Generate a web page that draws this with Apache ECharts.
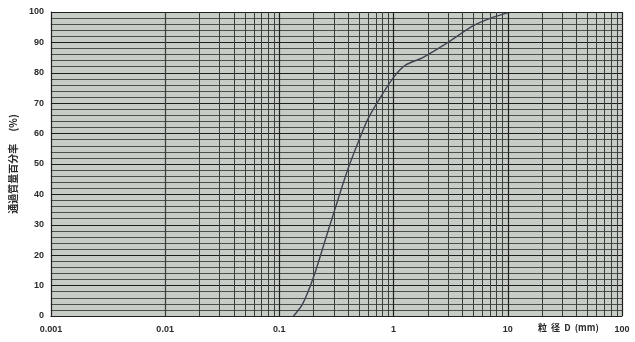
<!DOCTYPE html>
<html><head><meta charset="utf-8">
<script src="https://cdn.jsdelivr.net/npm/echarts@6/dist/echarts.min.js"></script>
<style>html,body{margin:0;padding:0;background:#fff}#c{width:635px;height:342px}</style>
</head><body><div id="c"></div>
<script>
// Particle size (mm) and percent passing
var grainSize = [0.133, 0.16, 0.2, 0.25, 0.3, 0.4, 0.5, 0.6, 0.77, 1.0, 1.27, 1.8, 3.0, 5.0, 7.5, 10];
var percentPassing = [0, 4, 13, 24.5, 34, 48.5, 58, 65, 72, 78.5, 82.5, 85, 90, 95.5, 98.3, 99.7];
var xTickLabels = ['0.001', '0.01', '0.1', '1', '10', '100'];
var yTickLabels = ['0','10','20','30','40','50','60','70','80','90','100'];
var decades = [0.001, 0.01, 0.1, 1, 10];
var subMultipliers = [2, 3, 4, 5, 6, 7, 8, 9];

var minorX = [];
decades.forEach(function (d) { subMultipliers.forEach(function (m) { minorX.push(+(d * m).toPrecision(3)); }); });

var lbl = {fontFamily: 'Liberation Sans', fontSize: 9, fontWeight: 'bold', color: '#2a2a2a'};
var chart = echarts.init(document.getElementById('c'));
chart.setOption({
  animation: false,
  grid: {left: 50, right: 13, top: 12, bottom: 26, show: true, backgroundColor: '#c7ccc7', borderWidth: 0},
  xAxis: {
    type: 'log', logBase: 10, min: 0.001, max: 100,
    axisLine: {show: true, lineStyle: {color: '#222', width: 1}},
    axisTick: {show: false},
    axisLabel: Object.assign({margin: 9, formatter: function (v) {
      var i = Math.round(Math.log10(v) + 3); return xTickLabels[i] || '';
    }}, lbl),
    splitLine: {show: true, lineStyle: {color: '#1e1e1e', width: 1.2}}
  },
  yAxis: {
    type: 'value', min: 0, max: 100, interval: 10,
    axisLine: {show: true, lineStyle: {color: '#222'}},
    axisTick: {show: false},
    axisLabel: Object.assign({margin: 7, formatter: function (v) { return yTickLabels[Math.round(v / 10)]; }}, lbl),
    splitLine: {show: true, lineStyle: {color: '#1e1e1e', width: 1.2}},
    minorTick: {show: false, splitNumber: 5},
    minorSplitLine: {show: true, lineStyle: {color: '#4a4f4a', width: 1}},
    name: '通過質量百分率　 (%)', nameLocation: 'middle', nameRotate: 90, nameGap: 30,
    nameTextStyle: {fontFamily: 'Noto Sans CJK JP', fontSize: 10, fontWeight: 'bold', color: '#2a2a2a'}
  },
  graphic: [{
    type: 'text', left: 538, top: 323,
    style: {text: '粒  径  D  (mm)', font: 'bold 9px "Noto Sans CJK JP"', fill: '#2a2a2a'}
  }],
  series: [{
    type: 'line', smooth: 0.3, symbol: 'none',
    data: grainSize.map(function (x, i) { return [x, percentPassing[i]]; }),
    lineStyle: {color: '#3f4652', width: 1.4},
    z: 5,
    markLine: {
      silent: true, symbol: 'none', label: {show: false}, animation: false,
      lineStyle: {color: '#3a3e3a', width: 1, type: 'solid'},
      data: minorX.map(function (v) { return {xAxis: v}; })
    }
  }]
});
</script></body></html>
